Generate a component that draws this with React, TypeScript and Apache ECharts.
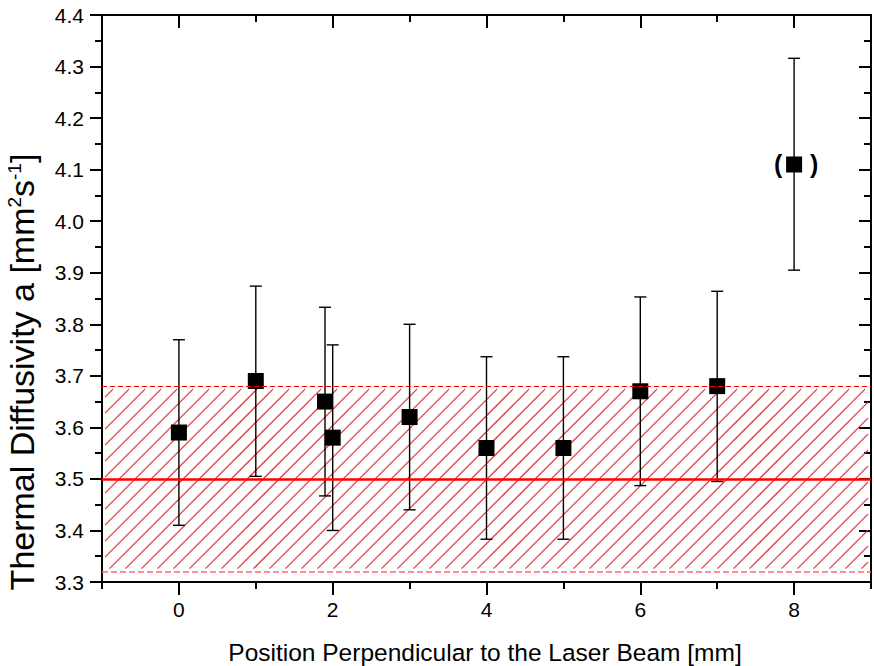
import React, { useEffect, useRef } from "react";
import * as echarts from "echarts";

// ---- data ----
const positions = [0, 1, 1.9, 2, 3, 4, 5, 6, 7, 8];
const diffusivity = [3.59, 3.69, 3.65, 3.58, 3.62, 3.56, 3.56, 3.67, 3.68, 4.11];
const errLow = [3.41, 3.505, 3.467, 3.4, 3.44, 3.383, 3.383, 3.487, 3.495, 3.905];
const errHigh = [3.77, 3.874, 3.833, 3.76, 3.8, 3.737, 3.737, 3.853, 3.864, 4.316];
const outlierIndex = 9;

const meanValue = 3.5;
const bandLow = 3.32;
const bandHigh = 3.68;

const xMajorTicks = [0, 2, 4, 6, 8];
const xMinorTicks = [-1, 1, 3, 5, 7, 9];
const xRange = [-1, 9];
const yRange = [3.3, 4.4];
const yInterval = 0.1;

const xTitle = "Position Perpendicular to the Laser Beam [mm]";

const FONT = "'Liberation Sans', Arial, Helvetica, sans-serif";
const HATCH = "#ff1a1a";

export default function App() {
  const ref = useRef<HTMLDivElement>(null);

  useEffect(() => {
    document.body.style.margin = "0";
    const chart = echarts.init(ref.current!, null, { renderer: "svg" });

    const scatterData = positions.map((x, i) => {
      const item: any = { value: [x, diffusivity[i]] };
      if (i === outlierIndex) {
        item.label = {
          show: true,
          position: "inside",
          formatter: "(    )",
          fontSize: 25,
          fontWeight: "bold",
          fontFamily: FONT,
          color: "#000",
          offset: [2, 0],
        };
      }
      return item;
    });

    const errData = positions.map((x, i) => [x, errLow[i], errHigh[i]]);

    const axisLineStyle = { color: "#000", width: 2 };

    const option: any = {
      animation: false,
      backgroundColor: "#fff",
      grid: { left: 102, right: 3, top: 15, bottom: 84, containLabel: false },
      xAxis: [
        {
          type: "value",
          min: xRange[0],
          max: xRange[1],
          position: "bottom",
          axisLine: { show: true, onZero: false, lineStyle: axisLineStyle },
          axisTick: { show: true, inside: false, length: 13, lineStyle: axisLineStyle, customValues: xMajorTicks },
          axisLabel: { show: true, customValues: xMajorTicks, fontSize: 21, fontFamily: FONT, color: "#000", margin: 17 },
          splitLine: { show: false },
        },
        {
          type: "value",
          min: xRange[0],
          max: xRange[1],
          position: "bottom",
          axisLine: { show: false, onZero: false },
          axisTick: { show: true, inside: false, length: 7, lineStyle: axisLineStyle, customValues: xMinorTicks },
          axisLabel: { show: false },
          splitLine: { show: false },
        },
        {
          type: "value",
          min: xRange[0],
          max: xRange[1],
          position: "top",
          axisLine: { show: true, onZero: false, lineStyle: axisLineStyle },
          axisTick: { show: true, inside: true, length: 13, lineStyle: axisLineStyle, customValues: xMajorTicks },
          axisLabel: { show: false },
          splitLine: { show: false },
        },
        {
          type: "value",
          min: xRange[0],
          max: xRange[1],
          position: "top",
          axisLine: { show: false, onZero: false },
          axisTick: { show: true, inside: true, length: 7, lineStyle: axisLineStyle, customValues: xMinorTicks },
          axisLabel: { show: false },
          splitLine: { show: false },
        },
      ],
      yAxis: [
        {
          type: "value",
          min: yRange[0],
          max: yRange[1],
          interval: yInterval,
          position: "left",
          axisLine: { show: true, onZero: false, lineStyle: axisLineStyle },
          axisTick: { show: true, inside: false, length: 12, lineStyle: axisLineStyle },
          minorTick: { show: true, splitNumber: 2, length: 7, lineStyle: axisLineStyle },
          axisLabel: {
            fontSize: 21,
            fontFamily: FONT,
            color: "#000",
            margin: 18,
            formatter: (v: number) => v.toFixed(1),
          },
          splitLine: { show: false },
          minorSplitLine: { show: false },
        },
        {
          type: "value",
          min: yRange[0],
          max: yRange[1],
          interval: yInterval,
          position: "right",
          axisLine: { show: true, onZero: false, lineStyle: axisLineStyle },
          axisTick: { show: true, inside: true, length: 12, lineStyle: axisLineStyle },
          minorTick: { show: true, splitNumber: 2, length: 7, lineStyle: axisLineStyle },
          axisLabel: { show: false },
          splitLine: { show: false },
          minorSplitLine: { show: false },
        },
      ],
      graphic: [
        {
          type: "text",
          x: 22,
          y: 372,
          rotation: Math.PI / 2,
          style: {
            text: "{a|Thermal Diffusivity a [mm}{s|2}{a|s}{s|-1}{a|]}",
            align: "center",
            verticalAlign: "middle",
            fill: "#000",
            rich: {
              a: { fontSize: 34, fontFamily: FONT, fill: "#000", color: "#000" },
              s: { fontSize: 19, fontFamily: FONT, fill: "#000", color: "#000", verticalAlign: "top" },
            },
          },
        },
        {
          type: "text",
          x: 485,
          y: 652,
          style: {
            text: xTitle,
            font: `24.5px ${FONT}`,
            fill: "#000",
            align: "center",
            verticalAlign: "middle",
          },
        },
      ],
      series: [
        {
          type: "custom",
          name: "band",
          xAxisIndex: 0,
          yAxisIndex: 0,
          z: 1,
          silent: true,
          clip: true,
          itemStyle: { color: HATCH },
          data: [[xRange[0], xRange[1], bandLow, bandHigh]],
          renderItem: (params: any, api: any) => {
            const p0 = api.coord([api.value(0), api.value(3)]);
            const p1 = api.coord([api.value(1), api.value(2)]);
            const inset = 3;
            const x0 = p0[0] + inset;
            const y0 = p0[1] + inset;
            const x1 = p1[0] - inset;
            const y1 = p1[1] - inset;
            const step = 16;
            const pts: number[][] = [];
            const children: any[] = [];
            for (let k = x0 + y0 + step / 2; k < x1 + y1; k += step) {
              const xa = Math.max(x0, k - y1);
              const xb = Math.min(x1, k - y0);
              if (xb <= xa) continue;
              children.push({
                type: "polyline",
                shape: { points: [[xa, k - xa], [xb, k - xb]] },
                style: { stroke: HATCH, fill: "none", lineWidth: 1.1 },
              });
            }
            return { type: "group", children };
          },
        },
        {
          type: "custom",
          name: "errors",
          xAxisIndex: 0,
          yAxisIndex: 0,
          z: 2,
          silent: true,
          itemStyle: { color: "#000" },
          data: errData,
          encode: { x: 0, y: [1, 2] },
          renderItem: (params: any, api: any) => {
            const lo = api.coord([api.value(0), api.value(1)]);
            const hi = api.coord([api.value(0), api.value(2)]);
            const cap = 6;
            const st = { stroke: "#000", lineWidth: 1.4 };
            return {
              type: "group",
              children: [
                { type: "line", shape: { x1: lo[0], y1: lo[1], x2: hi[0], y2: hi[1] }, style: st },
                { type: "line", shape: { x1: lo[0] - cap, y1: lo[1], x2: lo[0] + cap, y2: lo[1] }, style: st },
                { type: "line", shape: { x1: hi[0] - cap, y1: hi[1], x2: hi[0] + cap, y2: hi[1] }, style: st },
              ],
            };
          },
        },
        {
          type: "scatter",
          name: "Thermal diffusivity",
          xAxisIndex: 0,
          yAxisIndex: 0,
          z: 3,
          symbol: "rect",
          symbolSize: 16,
          itemStyle: { color: "#000", opacity: 1 },
          data: scatterData,
          markLine: {
            silent: true,
            symbol: ["none", "none"],
            label: { show: false },
            animation: false,
            data: [
              { yAxis: bandHigh, lineStyle: { color: "#ff0000", width: 1, type: [5, 3], opacity: 1 } },
              { yAxis: bandLow, lineStyle: { color: "#ff6a6a", width: 1.5, type: [6, 3], opacity: 1 } },
              { yAxis: meanValue, lineStyle: { color: "#ff0000", width: 2.5, type: "solid", opacity: 1 } },
            ],
          },
        },
      ],
    };

    chart.setOption(option);
    return () => chart.dispose();
  }, []);

  return (
    <div
      ref={ref}
      style={{ position: "fixed", left: 0, top: 0, width: 874, height: 666, background: "#fff" }}
    />
  );
}
